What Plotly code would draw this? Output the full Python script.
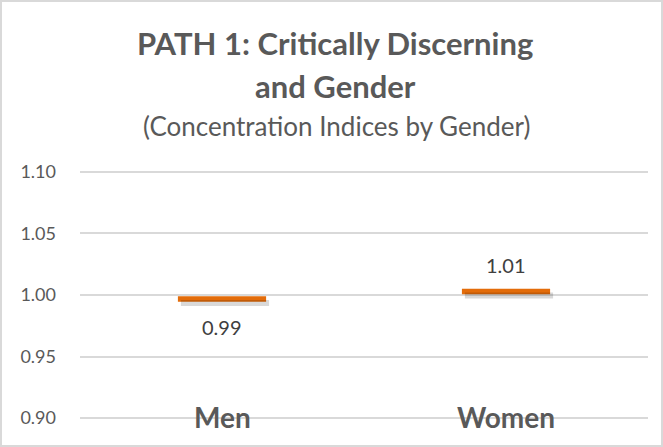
import plotly.graph_objects as go

categories = ["Men", "Women"]
values = [0.9967, 1.0028]
value_labels = ["0.99", "1.01"]
label_shift = [-28, 27]
y_ticks = [0.90, 0.95, 1.00, 1.05, 1.10]
y_tick_labels = ["0.90", "0.95", "1.00", "1.05", "1.10"]

W, H = 663, 447
L, R, T, B = 80, 15, 168, 25
pw, ph = W - L - R, H - T - B
Y0, Y1 = 0.8968, 1.1032
FONT = "Lato, sans-serif"

def py(pix):
    return (H - B - pix) / ph

def px(pix):
    return (pix - L) / pw

dx = 3 * 2.0 / pw              # shadow offset in category units (3 px)
dy = 4 * (Y1 - Y0) / ph        # shadow offset in value units (4 px)

fig = go.Figure()
# soft shadow (same data on a slightly shifted overlay axis)
fig.add_trace(go.Scatter(
    x=categories, y=values, mode="markers", xaxis="x2", yaxis="y2",
    marker=dict(symbol="line-ew", size=63, line=dict(color="rgba(0,0,0,0.15)", width=6)),
    hoverinfo="skip", showlegend=False))
fig.add_trace(go.Scatter(
    x=categories, y=values, mode="markers",
    marker=dict(symbol="line-ew", size=63, line=dict(color="#E36C0A", width=5.5)),
    showlegend=False))

fig.update_layout(
    width=W, height=H,
    margin=dict(l=L, r=R, t=T, b=B),
    paper_bgcolor="white", plot_bgcolor="white",
    xaxis=dict(type="category", range=[-0.5, 1.5], showticklabels=False,
               showgrid=False, zeroline=False, showline=False),
    yaxis=dict(range=[Y0, Y1], tickvals=y_ticks, ticktext=y_tick_labels,
               showgrid=True, gridcolor="#D9D9D9", gridwidth=1.5, zeroline=False,
               showline=False, ticks="", ticklabelstandoff=23,
               tickfont=dict(family=FONT, size=18, color="#595959")),
    xaxis2=dict(type="category", range=[-0.5 - dx, 1.5 - dx], overlaying="x", visible=False),
    yaxis2=dict(range=[Y0 + dy, Y1 + dy], overlaying="y", visible=False),
)

ann = [
    dict(text="<b>PATH 1: Critically Discerning</b>", x=px(335), y=py(43), size=31),
    dict(text="<b>and Gender</b>", x=px(335), y=py(86), size=31),
    dict(text="(Concentration Indices by Gender)", x=px(336), y=py(126), size=26),
]
annotations = []
for a in ann:
    annotations.append(dict(text=a["text"], x=a["x"], y=a["y"], xref="paper", yref="paper",
                            xanchor="center", yanchor="middle", showarrow=False,
                            font=dict(family=FONT, size=a["size"], color="#595959")))
for c, v, t, s in zip(categories, values, value_labels, label_shift):
    annotations.append(dict(text=t, x=c, y=v, xref="x", yref="y", yshift=s,
                            xanchor="center", yanchor="middle", showarrow=False,
                            font=dict(family=FONT, size=20, color="#404040")))
for c in categories:
    annotations.append(dict(text="<b>" + c + "</b>", x=c, xref="x", y=py(417), yref="paper",
                            xanchor="center", yanchor="middle", showarrow=False,
                            font=dict(family=FONT, size=28, color="#595959")))
fig.update_layout(annotations=annotations)

fig.add_shape(type="rect", xref="paper", yref="paper",
              x0=px(1), x1=px(662), y0=py(446), y1=py(1),
              line=dict(color="#D9D9D9", width=2), fillcolor="rgba(0,0,0,0)", layer="below")

fig.write_html("out.html", config={"displayModeBar": False},
               post_script="document.body.style.margin='0';")
